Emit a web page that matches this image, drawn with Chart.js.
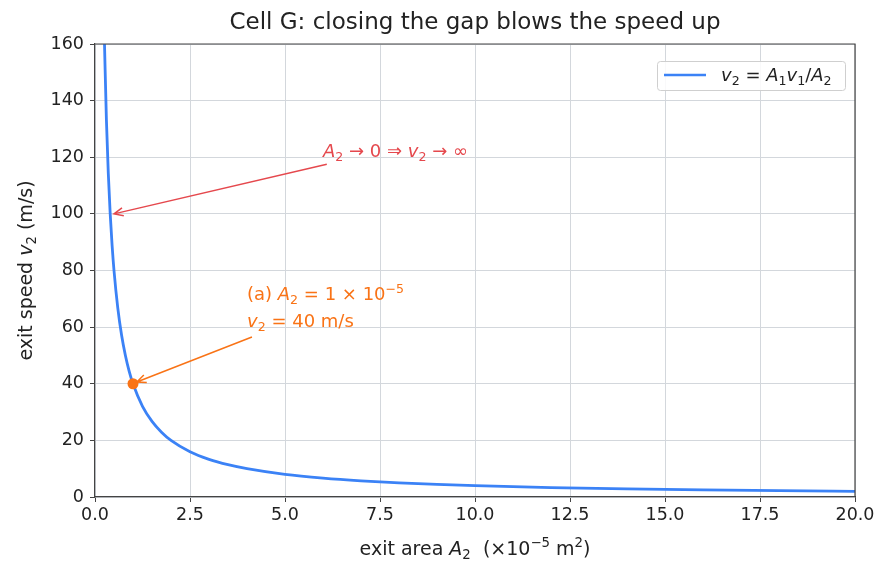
<!DOCTYPE html>
<html>
<head>
<meta charset="utf-8">
<script src="https://cdn.jsdelivr.net/npm/chart.js@4"></script>
<style>
  html, body { margin: 0; padding: 0; background: #fff; }
  #wrap { width: 890px; height: 576px; }
</style>
</head>
<body>
<div id="wrap"><canvas id="speedChart" width="890" height="576"></canvas></div>
<script>
// Datos: área de salida (x10^-5 m^2) y velocidad (m/s)
const areaValues = [0.25, 0.3, 0.35, 0.4, 0.45, 0.5, 0.6, 0.7, 0.8, 0.9, 1, 1.25, 1.5, 1.75, 2, 2.5, 3, 3.5, 4, 5, 6, 7, 8, 9, 10, 12, 14, 16, 18, 20];
const speedValues = [160, 133.3, 114.3, 100, 88.9, 80, 66.7, 57.1, 50, 44.4, 40, 32, 26.7, 22.9, 20, 16, 13.3, 11.4, 10, 8, 6.67, 5.71, 5, 4.44, 4, 3.33, 2.86, 2.5, 2.22, 2];
const markedPoint = [{ x: 1, y: 40 }];
const xTicks = [0, 2.5, 5, 7.5, 10, 12.5, 15, 17.5, 20];
const yTicks = [0, 20, 40, 60, 80, 100, 120, 140, 160];

const FONT = 'DejaVu Sans, sans-serif';
const BLUE = '#3b82f6';
const RED = '#e5484d';
const ORANGE = '#f97316';
const INK = '#222';

// Texto con cursiva, subíndices y superíndices
function richWidth(ctx, segs, size) {
    let w = 0;
    segs.forEach(s => {
        const sz = (s.sub || s.sup) ? size * 0.7 : size;
        ctx.font = (s.i ? 'italic ' : '') + sz + 'px ' + FONT;
        w += ctx.measureText(s.t).width;
    });
    return w;
}
function drawRich(ctx, segs, x, y, size, color, align) {
    let w = richWidth(ctx, segs, size);
    let cx = align === 'center' ? x - w / 2 : (align === 'right' ? x - w : x);
    ctx.fillStyle = color;
    ctx.textBaseline = 'alphabetic';
    ctx.textAlign = 'left';
    segs.forEach(s => {
        const sz = (s.sub || s.sup) ? size * 0.7 : size;
        ctx.font = (s.i ? 'italic ' : '') + sz + 'px ' + FONT;
        let dy = s.sub ? size * 0.22 : (s.sup ? -size * 0.42 : 0);
        ctx.fillText(s.t, cx, y + dy);
        cx += ctx.measureText(s.t).width;
    });
}
function arrow(ctx, x1, y1, x2, y2, color) {
    ctx.save();
    ctx.strokeStyle = color;
    ctx.lineWidth = 1.5;
    ctx.beginPath();
    ctx.moveTo(x1, y1);
    ctx.lineTo(x2, y2);
    const a = Math.atan2(y2 - y1, x2 - x1);
    const L = 10, s = 0.42;
    ctx.moveTo(x2 - L * Math.cos(a - s), y2 - L * Math.sin(a - s));
    ctx.lineTo(x2, y2);
    ctx.lineTo(x2 - L * Math.cos(a + s), y2 - L * Math.sin(a + s));
    ctx.stroke();
    ctx.restore();
}

const decorPlugin = {
    id: 'decor',
    afterDraw(chart) {
        const ctx = chart.ctx;
        const xs = chart.scales.x, ys = chart.scales.y;
        const ca = chart.chartArea;
        ctx.save();
        // título
        ctx.font = '23px ' + FONT;
        ctx.fillStyle = INK;
        ctx.textAlign = 'center';
        ctx.textBaseline = 'middle';
        ctx.fillText('Cell G: closing the gap blows the speed up', (ca.left + ca.right) / 2, 23);

        // título eje x
        drawRich(ctx, [
            { t: 'exit area ' }, { t: 'A', i: true }, { t: '2', sub: true },
            { t: '  (×10' }, { t: '−5', sup: true }, { t: ' m' }, { t: '2', sup: true }, { t: ')' }
        ], (ca.left + ca.right) / 2, 555, 19, INK, 'center');

        // título eje y
        ctx.save();
        ctx.translate(32, (ca.top + ca.bottom) / 2);
        ctx.rotate(-Math.PI / 2);
        drawRich(ctx, [
            { t: 'exit speed ' }, { t: 'v', i: true }, { t: '2', sub: true }, { t: ' (m/s)' }
        ], 0, 0, 19, INK, 'center');
        ctx.restore();

        // anotación roja
        arrow(ctx, xs.getPixelForValue(6.1), ys.getPixelForValue(117.5),
            xs.getPixelForValue(0.5), ys.getPixelForValue(100), RED);
        drawRich(ctx, [
            { t: 'A', i: true }, { t: '2', sub: true }, { t: ' → 0 ⇒ ' },
            { t: 'v', i: true }, { t: '2', sub: true }, { t: ' → ∞' }
        ], xs.getPixelForValue(6.0), ys.getPixelForValue(120), 18, RED, 'left');

        // anotación naranja
        arrow(ctx, xs.getPixelForValue(4.13), ys.getPixelForValue(56.5),
            xs.getPixelForValue(1.1), ys.getPixelForValue(40.6), ORANGE);
        drawRich(ctx, [
            { t: '(a) ' }, { t: 'A', i: true }, { t: '2', sub: true },
            { t: ' = 1 × 10' }, { t: '−5', sup: true }
        ], xs.getPixelForValue(4.0), ys.getPixelForValue(60) - 27, 18, ORANGE, 'left');
        drawRich(ctx, [
            { t: 'v', i: true }, { t: '2', sub: true }, { t: ' = 40 m/s' }
        ], xs.getPixelForValue(4.0), ys.getPixelForValue(60), 18, ORANGE, 'left');

        // leyenda
        const lx = 657, ly = 61, lw = 188, lh = 29;
        ctx.fillStyle = 'rgba(255,255,255,0.85)';
        ctx.strokeStyle = '#cfcfcf';
        ctx.lineWidth = 1;
        ctx.beginPath();
        ctx.roundRect(lx + 0.5, ly + 0.5, lw, lh, 3);
        ctx.fill();
        ctx.stroke();
        ctx.strokeStyle = BLUE;
        ctx.lineWidth = 2.6;
        ctx.beginPath();
        ctx.moveTo(664, 75);
        ctx.lineTo(706, 75);
        ctx.stroke();
        drawRich(ctx, [
            { t: 'v', i: true }, { t: '2', sub: true }, { t: ' = ' },
            { t: 'A', i: true }, { t: '1', sub: true }, { t: 'v', i: true }, { t: '1', sub: true },
            { t: '/' }, { t: 'A', i: true }, { t: '2', sub: true }
        ], 721, 81, 18, INK, 'left');
        ctx.restore();
    }
};

const ctxSpeed = document.getElementById('speedChart');
new Chart(ctxSpeed, {
    type: 'scatter',
    data: {
        datasets: [{
            label: 'v2 = A1 v1 / A2',
            data: areaValues.map((a, i) => ({ x: a, y: speedValues[i] })),
            showLine: true,
            borderColor: BLUE,
            borderWidth: 2.8,
            pointRadius: 0,
            cubicInterpolationMode: 'monotone',
            fill: false,
            order: 2
        }, {
            label: 'punto (a)',
            data: markedPoint,
            pointRadius: 5.5,
            pointBackgroundColor: ORANGE,
            pointBorderColor: ORANGE,
            pointBorderWidth: 0,
            order: 1
        }]
    },
    options: {
        responsive: false,
        animation: false,
        devicePixelRatio: 1,
        layout: { padding: { top: 44, right: 35, left: 0, bottom: 0 } },
        plugins: { legend: { display: false }, title: { display: false }, tooltip: { enabled: false } },
        scales: {
            x: {
                type: 'linear', min: 0, max: 20,
                afterBuildTicks: s => { s.ticks = xTicks.map(v => ({ value: v })); },
                afterFit: s => { s.height = 79; },
                ticks: { callback: v => v.toFixed(1), color: INK, font: { family: FONT, size: 17.5 }, padding: 3 },
                grid: { color: '#d3d7dc', lineWidth: 1, tickLength: 5, tickColor: '#444' },
                border: { color: '#444', width: 1.2 }
            },
            y: {
                type: 'linear', min: 0, max: 160,
                afterBuildTicks: s => { s.ticks = yTicks.map(v => ({ value: v })); },
                afterFit: s => { s.width = 95; },
                ticks: { color: INK, font: { family: FONT, size: 17.5 }, padding: 6 },
                grid: { color: '#d3d7dc', lineWidth: 1, tickLength: 5, tickColor: '#444' },
                border: { color: '#444', width: 1.2 }
            }
        }
    },
    plugins: [decorPlugin, {
        id: 'frame',
        afterDatasetsDraw(chart) {
            const c = chart.ctx, ca = chart.chartArea;
            c.save();
            c.strokeStyle = '#444';
            c.lineWidth = 1.2;
            c.beginPath();
            c.moveTo(ca.left, ca.top);
            c.lineTo(ca.right, ca.top);
            c.lineTo(ca.right, ca.bottom);
            c.stroke();
            c.restore();
        }
    }]
});
</script>
</body>
</html>
